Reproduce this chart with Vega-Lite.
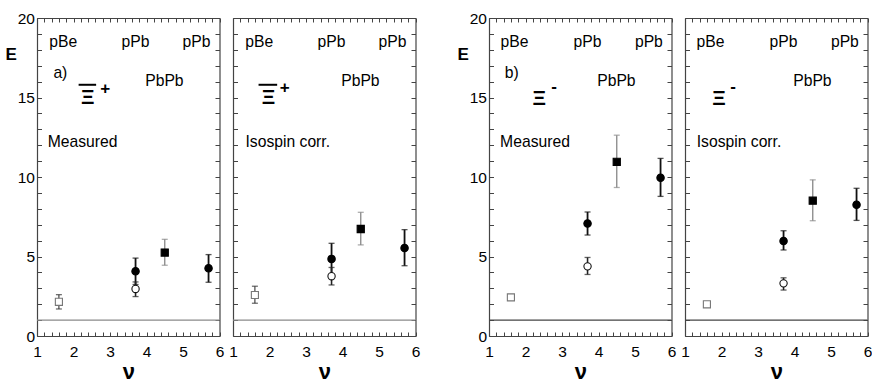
{
  "$schema": "https://vega.github.io/schema/vega-lite/v6.json",
  "padding": {"left": 5, "top": 11, "right": 2, "bottom": 2},
  "datasets": {
    "pts": [
      {"panel": "a1", "nu": 1.6, "E": 2.15, "lo": 1.7, "hi": 2.6, "kind": "oSq"},
      {"panel": "a1", "nu": 3.7, "E": 4.07, "lo": 3.24, "hi": 4.9, "kind": "fCirc"},
      {"panel": "a1", "nu": 3.7, "E": 2.96, "lo": 2.48, "hi": 3.4, "kind": "oCirc"},
      {"panel": "a1", "nu": 4.5, "E": 5.25, "lo": 4.45, "hi": 6.08, "kind": "fSq"},
      {"panel": "a1", "nu": 5.7, "E": 4.26, "lo": 3.38, "hi": 5.12, "kind": "fCirc"},
      {"panel": "a2", "nu": 1.6, "E": 2.58, "lo": 2.06, "hi": 3.13, "kind": "oSq"},
      {"panel": "a2", "nu": 3.7, "E": 4.85, "lo": 3.87, "hi": 5.83, "kind": "fCirc"},
      {"panel": "a2", "nu": 3.7, "E": 3.76, "lo": 3.21, "hi": 4.31, "kind": "oCirc"},
      {"panel": "a2", "nu": 4.5, "E": 6.73, "lo": 5.73, "hi": 7.78, "kind": "fSq"},
      {"panel": "a2", "nu": 5.7, "E": 5.54, "lo": 4.42, "hi": 6.69, "kind": "fCirc"},
      {"panel": "b1", "nu": 1.6, "E": 2.43, "lo": 2.3, "hi": 2.56, "kind": "oSq"},
      {"panel": "b1", "nu": 3.7, "E": 7.08, "lo": 6.35, "hi": 7.8, "kind": "fCirc"},
      {"panel": "b1", "nu": 3.7, "E": 4.38, "lo": 3.87, "hi": 4.94, "kind": "oCirc"},
      {"panel": "b1", "nu": 4.5, "E": 10.95, "lo": 9.34, "hi": 12.63, "kind": "fSq"},
      {"panel": "b1", "nu": 5.7, "E": 9.95, "lo": 8.78, "hi": 11.17, "kind": "fCirc"},
      {"panel": "b2", "nu": 1.6, "E": 1.99, "lo": 1.9, "hi": 2.1, "kind": "oSq"},
      {"panel": "b2", "nu": 3.7, "E": 5.97, "lo": 5.41, "hi": 6.62, "kind": "fCirc"},
      {"panel": "b2", "nu": 3.7, "E": 3.31, "lo": 2.89, "hi": 3.66, "kind": "oCirc"},
      {"panel": "b2", "nu": 4.5, "E": 8.51, "lo": 7.25, "hi": 9.82, "kind": "fSq"},
      {"panel": "b2", "nu": 5.7, "E": 8.26, "lo": 7.27, "hi": 9.29, "kind": "fCirc"}
    ],
    "labels": [
      {"panel": "a1", "nu": 1.72, "E": 18.5, "text": "pBe", "role": "lab"},
      {"panel": "a1", "nu": 3.7, "E": 18.5, "text": "pPb", "role": "lab"},
      {"panel": "a1", "nu": 5.37, "E": 18.5, "text": "pPb", "role": "lab"},
      {"panel": "a1", "nu": 4.49, "E": 16.05, "text": "PbPb", "role": "lab"},
      {"panel": "a1", "nu": 1.64, "E": 16.55, "text": "a)", "role": "lab"},
      {"panel": "a1", "nu": 2.25, "E": 12.2, "text": "Measured", "role": "lab"},
      {"panel": "a1", "nu": 2.39, "E": 14.95, "text": "Ξ", "role": "xi"},
      {"panel": "a1", "nu": 2.87, "E": 15.55, "text": "+", "role": "sup"},
      {"panel": "a2", "nu": 1.72, "E": 18.5, "text": "pBe", "role": "lab"},
      {"panel": "a2", "nu": 3.7, "E": 18.5, "text": "pPb", "role": "lab"},
      {"panel": "a2", "nu": 5.37, "E": 18.5, "text": "pPb", "role": "lab"},
      {"panel": "a2", "nu": 4.49, "E": 16.05, "text": "PbPb", "role": "lab"},
      {"panel": "a2", "nu": 2.5, "E": 12.2, "text": "Isospin corr.", "role": "lab"},
      {"panel": "a2", "nu": 1.97, "E": 14.95, "text": "Ξ", "role": "xi"},
      {"panel": "a2", "nu": 2.42, "E": 15.6, "text": "+", "role": "sup"},
      {"panel": "b1", "nu": 1.7, "E": 18.5, "text": "pBe", "role": "lab"},
      {"panel": "b1", "nu": 3.7, "E": 18.5, "text": "pPb", "role": "lab"},
      {"panel": "b1", "nu": 5.38, "E": 18.5, "text": "pPb", "role": "lab"},
      {"panel": "b1", "nu": 4.49, "E": 16.05, "text": "PbPb", "role": "lab"},
      {"panel": "b1", "nu": 1.62, "E": 16.55, "text": "b)", "role": "lab"},
      {"panel": "b1", "nu": 2.26, "E": 12.2, "text": "Measured", "role": "lab"},
      {"panel": "b1", "nu": 2.38, "E": 14.9, "text": "Ξ", "role": "xi"},
      {"panel": "b1", "nu": 2.78, "E": 15.65, "text": "-", "role": "sup"},
      {"panel": "b2", "nu": 1.7, "E": 18.5, "text": "pBe", "role": "lab"},
      {"panel": "b2", "nu": 3.7, "E": 18.5, "text": "pPb", "role": "lab"},
      {"panel": "b2", "nu": 5.38, "E": 18.5, "text": "pPb", "role": "lab"},
      {"panel": "b2", "nu": 4.49, "E": 16.05, "text": "PbPb", "role": "lab"},
      {"panel": "b2", "nu": 2.48, "E": 12.2, "text": "Isospin corr.", "role": "lab"},
      {"panel": "b2", "nu": 1.93, "E": 14.9, "text": "Ξ", "role": "xi"},
      {"panel": "b2", "nu": 2.32, "E": 15.65, "text": "-", "role": "sup"}
    ],
    "bars": [
      {"panel": "a1", "nu1": 2.14, "nu2": 2.62, "E": 15.8},
      {"panel": "a2", "nu1": 1.7, "nu2": 2.21, "E": 15.8}
    ]
  },
  "hconcat": [
    {
      "spacing": 13,
      "bounds": "flush",
      "hconcat": [
        {
          "width": 182.5, "height": 318,
          "resolve": {"axis": {"x": "independent", "y": "independent"}},
          "layer": [
            {"data": {"values": [{}]}, "mark": {"type": "rule", "color": "#8a8a8a", "strokeWidth": 1.2}, "encoding": {"y": {"datum": 1, "type": "quantitative", "axis": null}}},
            {"data": {"name": "pts"}, "transform": [{"filter": "datum.panel == 'a1'"}], "mark": {"type": "rule"},
             "encoding": {
               "x": {"field": "nu", "type": "quantitative", "scale": {"domain": [1, 6], "nice": false, "zero": false},
                     "axis": {"orient": "bottom", "tickCount": 25, "labelExpr": "abs(datum.value-round(datum.value))<0.01 ? format(round(datum.value),'d') : ''", "tickSize": -4, "labelPadding": 12, "title": "ν", "titleFontSize": 22, "titleFontWeight": "bold", "titlePadding": 2}},
               "y": {"field": "lo", "type": "quantitative", "scale": {"domain": [0, 20], "nice": false, "zero": false},
                     "axis": {"orient": "left", "tickCount": 20, "labelExpr": "datum.value % 5 == 0 ? format(datum.value,'d') : ''", "tickSize": -4.5, "labelPadding": 7, "title": "E", "titleAngle": 0, "titleFontSize": 17, "titleFontWeight": "bold", "titleX": -32, "titleY": 36, "titleAlign": "left", "titleBaseline": "middle"}},
               "y2": {"field": "hi"},
               "color": {"field": "kind", "type": "nominal", "scale": {"domain": ["fCirc", "oCirc", "fSq", "oSq"], "range": ["#111111", "#222222", "#8a8a8a", "#333333"]}, "legend": null},
               "strokeWidth": {"field": "kind", "type": "ordinal", "scale": {"domain": ["fCirc", "oCirc", "fSq", "oSq"], "range": [1.8, 1.1, 1.1, 1.1]}, "legend": null}
             }},
            {"data": {"name": "pts"}, "transform": [{"filter": "datum.panel == 'a1'"}], "mark": {"type": "tick", "orient": "horizontal", "size": 6, "thickness": 1.3},
             "encoding": {"x": {"field": "nu", "type": "quantitative", "axis": null}, "y": {"field": "lo", "type": "quantitative", "axis": null}, "color": {"field": "kind", "type": "nominal", "legend": null}}},
            {"data": {"name": "pts"}, "transform": [{"filter": "datum.panel == 'a1'"}], "mark": {"type": "tick", "orient": "horizontal", "size": 6, "thickness": 1.3},
             "encoding": {"x": {"field": "nu", "type": "quantitative", "axis": null}, "y": {"field": "hi", "type": "quantitative", "axis": null}, "color": {"field": "kind", "type": "nominal", "legend": null}}},
            {"data": {"name": "pts"}, "transform": [{"filter": "datum.panel == 'a1'"}], "mark": {"type": "point", "filled": true, "opacity": 1, "strokeWidth": 1.1},
             "encoding": {
               "x": {"field": "nu", "type": "quantitative", "axis": {"orient": "top", "tickCount": 25, "labels": false, "tickSize": -4, "title": null}},
               "y": {"field": "E", "type": "quantitative", "axis": {"orient": "right", "tickCount": 20, "labels": false, "tickSize": -4.5, "title": null}},
               "shape": {"field": "kind", "type": "nominal", "scale": {"domain": ["fCirc", "oCirc", "fSq", "oSq"], "range": ["circle", "circle", "square", "square"]}, "legend": null},
               "fill": {"field": "kind", "type": "nominal", "scale": {"domain": ["fCirc", "oCirc", "fSq", "oSq"], "range": ["#000000", "#ffffff", "#000000", "#ffffff"]}, "legend": null},
               "stroke": {"field": "kind", "type": "nominal", "scale": {"domain": ["fCirc", "oCirc", "fSq", "oSq"], "range": ["#000000", "#111111", "#000000", "#777777"]}, "legend": null},
               "size": {"field": "kind", "type": "nominal", "scale": {"domain": ["fCirc", "oCirc", "fSq", "oSq"], "range": [55, 50, 70, 50]}, "legend": null}
             }},
            {"data": {"name": "labels"}, "transform": [{"filter": "datum.panel == 'a1' && datum.role == 'lab'"}], "mark": {"type": "text", "font": "Liberation Sans", "fontSize": 15.7, "color": "#000000", "align": "center", "baseline": "middle"},
             "encoding": {"x": {"field": "nu", "type": "quantitative", "axis": null}, "y": {"field": "E", "type": "quantitative", "axis": null}, "text": {"field": "text"}}},
            {"data": {"name": "labels"}, "transform": [{"filter": "datum.panel == 'a1' && datum.role == 'xi'"}], "mark": {"type": "text", "font": "Liberation Sans", "fontSize": 21, "fontWeight": "bold", "color": "#000000", "align": "center", "baseline": "middle"},
             "encoding": {"x": {"field": "nu", "type": "quantitative", "axis": null}, "y": {"field": "E", "type": "quantitative", "axis": null}, "text": {"field": "text"}}},
            {"data": {"name": "labels"}, "transform": [{"filter": "datum.panel == 'a1' && datum.role == 'sup'"}], "mark": {"type": "text", "font": "Liberation Sans", "fontSize": 17, "fontWeight": "bold", "color": "#000000", "align": "center", "baseline": "middle"},
             "encoding": {"x": {"field": "nu", "type": "quantitative", "axis": null}, "y": {"field": "E", "type": "quantitative", "axis": null}, "text": {"field": "text"}}},
            {"data": {"name": "bars"}, "transform": [{"filter": "datum.panel == 'a1'"}], "mark": {"type": "rule", "color": "#000000", "strokeWidth": 2},
             "encoding": {"x": {"field": "nu1", "type": "quantitative", "axis": null}, "x2": {"field": "nu2"}, "y": {"field": "E", "type": "quantitative", "axis": null}}}
          ]
        },
        {
          "width": 182.5, "height": 318,
          "resolve": {"axis": {"x": "independent", "y": "independent"}},
          "layer": [
            {"data": {"values": [{}]}, "mark": {"type": "rule", "color": "#8a8a8a", "strokeWidth": 1.2}, "encoding": {"y": {"datum": 1, "type": "quantitative", "axis": null}}},
            {"data": {"name": "pts"}, "transform": [{"filter": "datum.panel == 'a2'"}], "mark": {"type": "rule"},
             "encoding": {
               "x": {"field": "nu", "type": "quantitative", "scale": {"domain": [1, 6], "nice": false, "zero": false},
                     "axis": {"orient": "bottom", "tickCount": 25, "labelExpr": "abs(datum.value-round(datum.value))<0.01 ? format(round(datum.value),'d') : ''", "tickSize": -4, "labelPadding": 12, "title": "ν", "titleFontSize": 22, "titleFontWeight": "bold", "titlePadding": 2}},
               "y": {"field": "lo", "type": "quantitative", "scale": {"domain": [0, 20], "nice": false, "zero": false},
                     "axis": {"orient": "left", "tickCount": 20, "labels": false, "tickSize": -4.5, "title": null}},
               "y2": {"field": "hi"},
               "color": {"field": "kind", "type": "nominal", "scale": {"domain": ["fCirc", "oCirc", "fSq", "oSq"], "range": ["#111111", "#222222", "#8a8a8a", "#333333"]}, "legend": null},
               "strokeWidth": {"field": "kind", "type": "ordinal", "scale": {"domain": ["fCirc", "oCirc", "fSq", "oSq"], "range": [1.8, 1.1, 1.1, 1.1]}, "legend": null}
             }},
            {"data": {"name": "pts"}, "transform": [{"filter": "datum.panel == 'a2'"}], "mark": {"type": "tick", "orient": "horizontal", "size": 6, "thickness": 1.3},
             "encoding": {"x": {"field": "nu", "type": "quantitative", "axis": null}, "y": {"field": "lo", "type": "quantitative", "axis": null}, "color": {"field": "kind", "type": "nominal", "legend": null}}},
            {"data": {"name": "pts"}, "transform": [{"filter": "datum.panel == 'a2'"}], "mark": {"type": "tick", "orient": "horizontal", "size": 6, "thickness": 1.3},
             "encoding": {"x": {"field": "nu", "type": "quantitative", "axis": null}, "y": {"field": "hi", "type": "quantitative", "axis": null}, "color": {"field": "kind", "type": "nominal", "legend": null}}},
            {"data": {"name": "pts"}, "transform": [{"filter": "datum.panel == 'a2'"}], "mark": {"type": "point", "filled": true, "opacity": 1, "strokeWidth": 1.1},
             "encoding": {
               "x": {"field": "nu", "type": "quantitative", "axis": {"orient": "top", "tickCount": 25, "labels": false, "tickSize": -4, "title": null}},
               "y": {"field": "E", "type": "quantitative", "axis": {"orient": "right", "tickCount": 20, "labels": false, "tickSize": -4.5, "title": null}},
               "shape": {"field": "kind", "type": "nominal", "scale": {"domain": ["fCirc", "oCirc", "fSq", "oSq"], "range": ["circle", "circle", "square", "square"]}, "legend": null},
               "fill": {"field": "kind", "type": "nominal", "scale": {"domain": ["fCirc", "oCirc", "fSq", "oSq"], "range": ["#000000", "#ffffff", "#000000", "#ffffff"]}, "legend": null},
               "stroke": {"field": "kind", "type": "nominal", "scale": {"domain": ["fCirc", "oCirc", "fSq", "oSq"], "range": ["#000000", "#111111", "#000000", "#777777"]}, "legend": null},
               "size": {"field": "kind", "type": "nominal", "scale": {"domain": ["fCirc", "oCirc", "fSq", "oSq"], "range": [55, 50, 70, 50]}, "legend": null}
             }},
            {"data": {"name": "labels"}, "transform": [{"filter": "datum.panel == 'a2' && datum.role == 'lab'"}], "mark": {"type": "text", "font": "Liberation Sans", "fontSize": 15.7, "color": "#000000", "align": "center", "baseline": "middle"},
             "encoding": {"x": {"field": "nu", "type": "quantitative", "axis": null}, "y": {"field": "E", "type": "quantitative", "axis": null}, "text": {"field": "text"}}},
            {"data": {"name": "labels"}, "transform": [{"filter": "datum.panel == 'a2' && datum.role == 'xi'"}], "mark": {"type": "text", "font": "Liberation Sans", "fontSize": 21, "fontWeight": "bold", "color": "#000000", "align": "center", "baseline": "middle"},
             "encoding": {"x": {"field": "nu", "type": "quantitative", "axis": null}, "y": {"field": "E", "type": "quantitative", "axis": null}, "text": {"field": "text"}}},
            {"data": {"name": "labels"}, "transform": [{"filter": "datum.panel == 'a2' && datum.role == 'sup'"}], "mark": {"type": "text", "font": "Liberation Sans", "fontSize": 17, "fontWeight": "bold", "color": "#000000", "align": "center", "baseline": "middle"},
             "encoding": {"x": {"field": "nu", "type": "quantitative", "axis": null}, "y": {"field": "E", "type": "quantitative", "axis": null}, "text": {"field": "text"}}},
            {"data": {"name": "bars"}, "transform": [{"filter": "datum.panel == 'a2'"}], "mark": {"type": "rule", "color": "#000000", "strokeWidth": 2},
             "encoding": {"x": {"field": "nu1", "type": "quantitative", "axis": null}, "x2": {"field": "nu2"}, "y": {"field": "E", "type": "quantitative", "axis": null}}}
          ]
        }
      ]
    },
    {
      "spacing": 13,
      "bounds": "flush",
      "hconcat": [
        {
          "width": 182.5, "height": 318,
          "resolve": {"axis": {"x": "independent", "y": "independent"}},
          "layer": [
            {"data": {"values": [{}]}, "mark": {"type": "rule", "color": "#444444", "strokeWidth": 1.2}, "encoding": {"y": {"datum": 1, "type": "quantitative", "axis": null}}},
            {"data": {"name": "pts"}, "transform": [{"filter": "datum.panel == 'b1'"}], "mark": {"type": "rule"},
             "encoding": {
               "x": {"field": "nu", "type": "quantitative", "scale": {"domain": [1, 6], "nice": false, "zero": false},
                     "axis": {"orient": "bottom", "tickCount": 25, "labelExpr": "abs(datum.value-round(datum.value))<0.01 ? format(round(datum.value),'d') : ''", "tickSize": -4, "labelPadding": 12, "title": "ν", "titleFontSize": 22, "titleFontWeight": "bold", "titlePadding": 2}},
               "y": {"field": "lo", "type": "quantitative", "scale": {"domain": [0, 20], "nice": false, "zero": false},
                     "axis": {"orient": "left", "tickCount": 20, "labelExpr": "datum.value % 5 == 0 ? format(datum.value,'d') : ''", "tickSize": -4.5, "labelPadding": 7, "title": "E", "titleAngle": 0, "titleFontSize": 17, "titleFontWeight": "bold", "titleX": -32, "titleY": 36, "titleAlign": "left", "titleBaseline": "middle"}},
               "y2": {"field": "hi"},
               "color": {"field": "kind", "type": "nominal", "scale": {"domain": ["fCirc", "oCirc", "fSq", "oSq"], "range": ["#111111", "#222222", "#8a8a8a", "#333333"]}, "legend": null},
               "strokeWidth": {"field": "kind", "type": "ordinal", "scale": {"domain": ["fCirc", "oCirc", "fSq", "oSq"], "range": [1.8, 1.1, 1.1, 1.1]}, "legend": null}
             }},
            {"data": {"name": "pts"}, "transform": [{"filter": "datum.panel == 'b1'"}], "mark": {"type": "tick", "orient": "horizontal", "size": 6, "thickness": 1.3},
             "encoding": {"x": {"field": "nu", "type": "quantitative", "axis": null}, "y": {"field": "lo", "type": "quantitative", "axis": null}, "color": {"field": "kind", "type": "nominal", "legend": null}}},
            {"data": {"name": "pts"}, "transform": [{"filter": "datum.panel == 'b1'"}], "mark": {"type": "tick", "orient": "horizontal", "size": 6, "thickness": 1.3},
             "encoding": {"x": {"field": "nu", "type": "quantitative", "axis": null}, "y": {"field": "hi", "type": "quantitative", "axis": null}, "color": {"field": "kind", "type": "nominal", "legend": null}}},
            {"data": {"name": "pts"}, "transform": [{"filter": "datum.panel == 'b1'"}], "mark": {"type": "point", "filled": true, "opacity": 1, "strokeWidth": 1.1},
             "encoding": {
               "x": {"field": "nu", "type": "quantitative", "axis": {"orient": "top", "tickCount": 25, "labels": false, "tickSize": -4, "title": null}},
               "y": {"field": "E", "type": "quantitative", "axis": {"orient": "right", "tickCount": 20, "labels": false, "tickSize": -4.5, "title": null}},
               "shape": {"field": "kind", "type": "nominal", "scale": {"domain": ["fCirc", "oCirc", "fSq", "oSq"], "range": ["circle", "circle", "square", "square"]}, "legend": null},
               "fill": {"field": "kind", "type": "nominal", "scale": {"domain": ["fCirc", "oCirc", "fSq", "oSq"], "range": ["#000000", "#ffffff", "#000000", "#ffffff"]}, "legend": null},
               "stroke": {"field": "kind", "type": "nominal", "scale": {"domain": ["fCirc", "oCirc", "fSq", "oSq"], "range": ["#000000", "#111111", "#000000", "#777777"]}, "legend": null},
               "size": {"field": "kind", "type": "nominal", "scale": {"domain": ["fCirc", "oCirc", "fSq", "oSq"], "range": [55, 50, 70, 50]}, "legend": null}
             }},
            {"data": {"name": "labels"}, "transform": [{"filter": "datum.panel == 'b1' && datum.role == 'lab'"}], "mark": {"type": "text", "font": "Liberation Sans", "fontSize": 15.7, "color": "#000000", "align": "center", "baseline": "middle"},
             "encoding": {"x": {"field": "nu", "type": "quantitative", "axis": null}, "y": {"field": "E", "type": "quantitative", "axis": null}, "text": {"field": "text"}}},
            {"data": {"name": "labels"}, "transform": [{"filter": "datum.panel == 'b1' && datum.role == 'xi'"}], "mark": {"type": "text", "font": "Liberation Sans", "fontSize": 21, "fontWeight": "bold", "color": "#000000", "align": "center", "baseline": "middle"},
             "encoding": {"x": {"field": "nu", "type": "quantitative", "axis": null}, "y": {"field": "E", "type": "quantitative", "axis": null}, "text": {"field": "text"}}},
            {"data": {"name": "labels"}, "transform": [{"filter": "datum.panel == 'b1' && datum.role == 'sup'"}], "mark": {"type": "text", "font": "Liberation Sans", "fontSize": 17, "fontWeight": "bold", "color": "#000000", "align": "center", "baseline": "middle"},
             "encoding": {"x": {"field": "nu", "type": "quantitative", "axis": null}, "y": {"field": "E", "type": "quantitative", "axis": null}, "text": {"field": "text"}}}
          ]
        },
        {
          "width": 182.5, "height": 318,
          "resolve": {"axis": {"x": "independent", "y": "independent"}},
          "layer": [
            {"data": {"values": [{}]}, "mark": {"type": "rule", "color": "#444444", "strokeWidth": 1.2}, "encoding": {"y": {"datum": 1, "type": "quantitative", "axis": null}}},
            {"data": {"name": "pts"}, "transform": [{"filter": "datum.panel == 'b2'"}], "mark": {"type": "rule"},
             "encoding": {
               "x": {"field": "nu", "type": "quantitative", "scale": {"domain": [1, 6], "nice": false, "zero": false},
                     "axis": {"orient": "bottom", "tickCount": 25, "labelExpr": "abs(datum.value-round(datum.value))<0.01 ? format(round(datum.value),'d') : ''", "tickSize": -4, "labelPadding": 12, "title": "ν", "titleFontSize": 22, "titleFontWeight": "bold", "titlePadding": 2}},
               "y": {"field": "lo", "type": "quantitative", "scale": {"domain": [0, 20], "nice": false, "zero": false},
                     "axis": {"orient": "left", "tickCount": 20, "labels": false, "tickSize": -4.5, "title": null}},
               "y2": {"field": "hi"},
               "color": {"field": "kind", "type": "nominal", "scale": {"domain": ["fCirc", "oCirc", "fSq", "oSq"], "range": ["#111111", "#222222", "#8a8a8a", "#333333"]}, "legend": null},
               "strokeWidth": {"field": "kind", "type": "ordinal", "scale": {"domain": ["fCirc", "oCirc", "fSq", "oSq"], "range": [1.8, 1.1, 1.1, 1.1]}, "legend": null}
             }},
            {"data": {"name": "pts"}, "transform": [{"filter": "datum.panel == 'b2'"}], "mark": {"type": "tick", "orient": "horizontal", "size": 6, "thickness": 1.3},
             "encoding": {"x": {"field": "nu", "type": "quantitative", "axis": null}, "y": {"field": "lo", "type": "quantitative", "axis": null}, "color": {"field": "kind", "type": "nominal", "legend": null}}},
            {"data": {"name": "pts"}, "transform": [{"filter": "datum.panel == 'b2'"}], "mark": {"type": "tick", "orient": "horizontal", "size": 6, "thickness": 1.3},
             "encoding": {"x": {"field": "nu", "type": "quantitative", "axis": null}, "y": {"field": "hi", "type": "quantitative", "axis": null}, "color": {"field": "kind", "type": "nominal", "legend": null}}},
            {"data": {"name": "pts"}, "transform": [{"filter": "datum.panel == 'b2'"}], "mark": {"type": "point", "filled": true, "opacity": 1, "strokeWidth": 1.1},
             "encoding": {
               "x": {"field": "nu", "type": "quantitative", "axis": {"orient": "top", "tickCount": 25, "labels": false, "tickSize": -4, "title": null}},
               "y": {"field": "E", "type": "quantitative", "axis": {"orient": "right", "tickCount": 20, "labels": false, "tickSize": -4.5, "title": null}},
               "shape": {"field": "kind", "type": "nominal", "scale": {"domain": ["fCirc", "oCirc", "fSq", "oSq"], "range": ["circle", "circle", "square", "square"]}, "legend": null},
               "fill": {"field": "kind", "type": "nominal", "scale": {"domain": ["fCirc", "oCirc", "fSq", "oSq"], "range": ["#000000", "#ffffff", "#000000", "#ffffff"]}, "legend": null},
               "stroke": {"field": "kind", "type": "nominal", "scale": {"domain": ["fCirc", "oCirc", "fSq", "oSq"], "range": ["#000000", "#111111", "#000000", "#777777"]}, "legend": null},
               "size": {"field": "kind", "type": "nominal", "scale": {"domain": ["fCirc", "oCirc", "fSq", "oSq"], "range": [55, 50, 70, 50]}, "legend": null}
             }},
            {"data": {"name": "labels"}, "transform": [{"filter": "datum.panel == 'b2' && datum.role == 'lab'"}], "mark": {"type": "text", "font": "Liberation Sans", "fontSize": 15.7, "color": "#000000", "align": "center", "baseline": "middle"},
             "encoding": {"x": {"field": "nu", "type": "quantitative", "axis": null}, "y": {"field": "E", "type": "quantitative", "axis": null}, "text": {"field": "text"}}},
            {"data": {"name": "labels"}, "transform": [{"filter": "datum.panel == 'b2' && datum.role == 'xi'"}], "mark": {"type": "text", "font": "Liberation Sans", "fontSize": 21, "fontWeight": "bold", "color": "#000000", "align": "center", "baseline": "middle"},
             "encoding": {"x": {"field": "nu", "type": "quantitative", "axis": null}, "y": {"field": "E", "type": "quantitative", "axis": null}, "text": {"field": "text"}}},
            {"data": {"name": "labels"}, "transform": [{"filter": "datum.panel == 'b2' && datum.role == 'sup'"}], "mark": {"type": "text", "font": "Liberation Sans", "fontSize": 17, "fontWeight": "bold", "color": "#000000", "align": "center", "baseline": "middle"},
             "encoding": {"x": {"field": "nu", "type": "quantitative", "axis": null}, "y": {"field": "E", "type": "quantitative", "axis": null}, "text": {"field": "text"}}}
          ]
        }
      ]
    }
  ],
  "spacing": 37,
  "config": {
    "view": {"stroke": null},
    "font": "Liberation Sans",
    "axis": {"grid": false, "domainColor": "#444444", "domainWidth": 1.2, "tickColor": "#444444", "tickWidth": 1, "labelFont": "Liberation Sans", "labelFontSize": 15.5, "labelColor": "#000000", "titleFont": "Liberation Sans", "titleColor": "#000000", "labelFlush": false, "labelOverlap": false, "labelBound": false}
  }
}
